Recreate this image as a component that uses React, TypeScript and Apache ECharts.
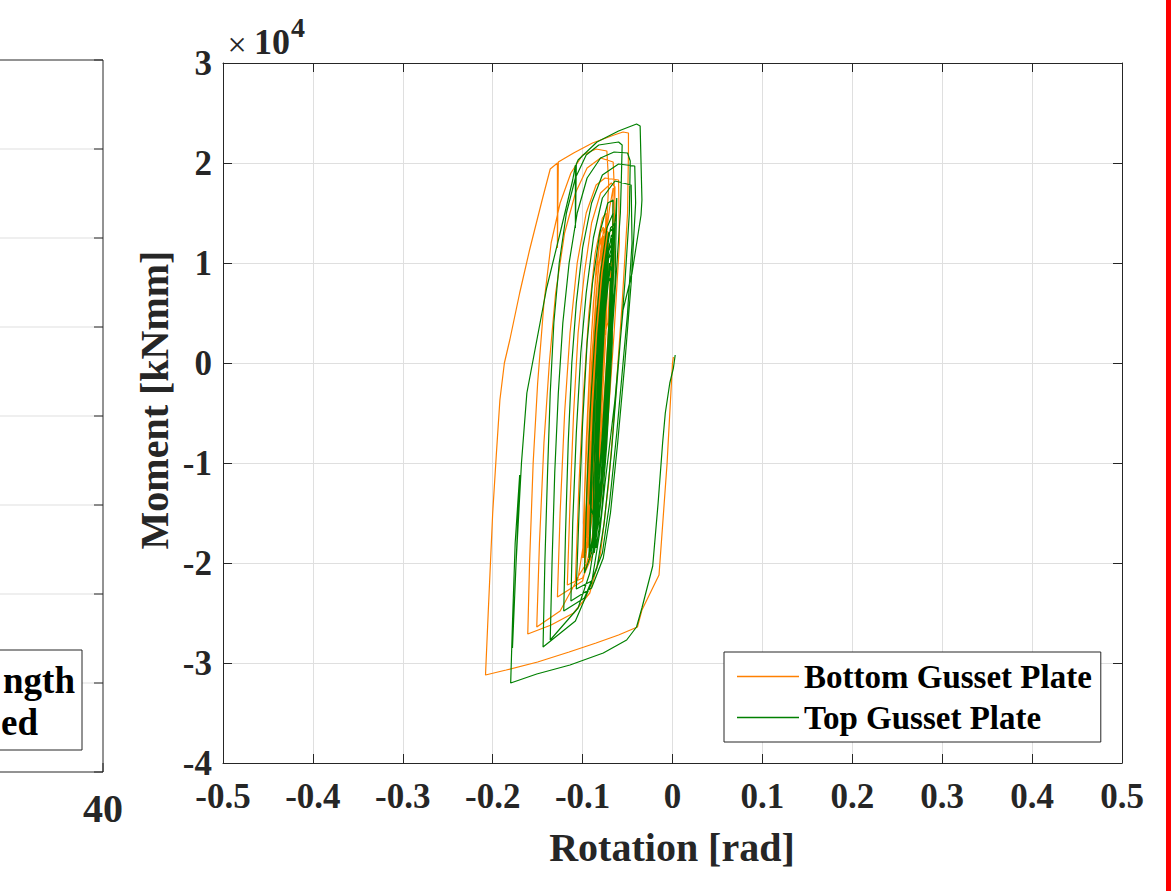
import React, { useEffect, useRef } from "react";
import * as echarts from "echarts";

const FONT = "'Liberation Serif', 'Times New Roman', serif";

const seriesNames = ["Bottom Gusset Plate", "Top Gusset Plate"];
const seriesColors = ["#FF8000", "#008000"];

// Rotation [rad], Moment [kNmm] — Bottom gusset plate, outer loops
const bottomOuter: [number, number][] = [
  [0.001, 600], [0.0, 0], [-0.006, -10000], [-0.015, -21200], [-0.034, -24700], [-0.039, -26400],
  [-0.06, -27200], [-0.085, -28000], [-0.115, -28900], [-0.15, -29900], [-0.185, -30700], [-0.208, -31200],
  [-0.205, -25000], [-0.2, -15000], [-0.196, -9200], [-0.192, -3700], [-0.187, 0], [-0.181, 2300],
  [-0.17, 7000], [-0.159, 11300], [-0.145, 16300], [-0.136, 19400], [-0.128, 20000], [-0.128, 11500],
  [-0.127, 20100], [-0.11, 21000], [-0.089, 22000], [-0.065, 22800], [-0.055, 23100], [-0.049, 23000],
  [-0.049, 21000], [-0.05, 15000], [-0.056, 6000], [-0.063, -3000], [-0.071, -12000], [-0.08, -19000],
  [-0.092, -23000], [-0.11, -25000], [-0.135, -26200], [-0.161, -27100],
  [-0.159, -20000], [-0.155, -10000], [-0.15, -2000], [-0.143, 6000], [-0.135, 12000], [-0.125, 16000],
  [-0.113, 19000], [-0.1, 20800], [-0.085, 21400], [-0.073, 21200], [-0.071, 18000], [-0.075, 10000],
  [-0.082, 0], [-0.09, -10000], [-0.097, -17000], [-0.105, -21500], [-0.125, -24800], [-0.151, -26400],
  [-0.148, -18000], [-0.143, -8000], [-0.137, 0], [-0.13, 7000], [-0.12, 13000], [-0.108, 17000],
  [-0.095, 19500], [-0.08, 20500], [-0.066, 20100], [-0.064, 16000], [-0.068, 8000], [-0.075, -2000],
  [-0.082, -11000], [-0.09, -18000], [-0.1, -21800], [-0.128, -23400],
  [-0.125, -15000], [-0.12, -5000], [-0.114, 3000], [-0.106, 10000], [-0.096, 15000], [-0.085, 17800],
  [-0.075, 18500], [-0.06, 18300], [-0.059, 12000], [-0.065, 3000], [-0.072, -6000], [-0.08, -14000],
  [-0.088, -19000], [-0.1, -21500], [-0.117, -22200],
  [-0.114, -14000], [-0.11, -5000], [-0.105, 3000], [-0.098, 9000], [-0.09, 14000], [-0.08, 17000],
  [-0.068, 18000], [-0.064, 17600], [-0.065, 10000], [-0.07, 2000], [-0.077, -7000], [-0.084, -14000],
  [-0.092, -19500], [-0.108, -21800],
];

// Bottom gusset plate, dense inner cycles
const bottomInner: [number, number][] = [
  [-0.104, -12000], [-0.099, -3000], [-0.093, 5000], [-0.086, 11000], [-0.078, 14500], [-0.074, 15000],
  [-0.076, 8000], [-0.082, -2000], [-0.088, -10000], [-0.094, -16000], [-0.1, -19500],
  [-0.097, -11000], [-0.093, -2000], [-0.088, 6000], [-0.082, 11500], [-0.075, 13500], [-0.078, 6000],
  [-0.084, -4000], [-0.09, -12000], [-0.097, -18000],
  [-0.094, -9000], [-0.09, 0], [-0.085, 7000], [-0.079, 12000], [-0.073, 13000], [-0.076, 5000],
  [-0.082, -5000], [-0.088, -13000], [-0.095, -17500],
  [-0.092, -8000], [-0.087, 1000], [-0.082, 8000], [-0.076, 12500], [-0.072, 13200], [-0.075, 4000],
  [-0.081, -6000], [-0.087, -13000], [-0.093, -17000],
  [-0.09, -8000], [-0.086, 0], [-0.081, 7000], [-0.076, 11000], [-0.071, 12000], [-0.074, 3000],
  [-0.08, -7000], [-0.086, -14000], [-0.092, -16500],
  [-0.089, -7000], [-0.085, 1000], [-0.08, 7500], [-0.075, 11500], [-0.073, 11800], [-0.076, 2000],
  [-0.082, -8000], [-0.088, -14500], [-0.094, -18500],
  [-0.091, -9000], [-0.087, -1000], [-0.083, 6000], [-0.078, 10500], [-0.074, 11000], [-0.077, 3000],
  [-0.083, -6000], [-0.089, -13000], [-0.095, -16000],
  [-0.096, -15000], [-0.092, -6000], [-0.088, 2000], [-0.083, 9000], [-0.078, 12500], [-0.074, 12800],
  [-0.078, 4000], [-0.084, -6000], [-0.09, -14000], [-0.097, -19000],
  [-0.098, -14000], [-0.094, -5000], [-0.09, 3000], [-0.085, 9500], [-0.08, 13000], [-0.077, 13600],
  [-0.08, 5000], [-0.086, -5000], [-0.092, -13000], [-0.098, -18000],
  [-0.095, -12000], [-0.091, -3000], [-0.087, 4000], [-0.082, 10000], [-0.077, 12000], [-0.079, 3000],
  [-0.085, -7000], [-0.091, -15000], [-0.097, -20000],
  [-0.099, -16000], [-0.096, -8000], [-0.092, 0], [-0.087, 7000], [-0.081, 12000], [-0.079, 12500],
  [-0.081, 3000], [-0.087, -7000], [-0.093, -15000], [-0.099, -19500],
  [-0.093, -10000], [-0.089, -2000], [-0.085, 5000], [-0.08, 8000], [-0.07, 15500], [-0.066, 17500],
  [-0.067, 12000], [-0.072, 4000], [-0.078, 2000], [-0.084, -8000], [-0.09, -14000],
  [-0.092, -7000], [-0.088, 2000], [-0.084, 8000], [-0.08, 11000], [-0.077, 10000], [-0.08, 1000],
  [-0.086, -8000],
];

// Top gusset plate, outer loops
const topOuter: [number, number][] = [
  [0.003, 800], [0.001, -500], [-0.003, -2000], [-0.008, -5000], [-0.011, -8000], [-0.016, -14000],
  [-0.022, -20300], [-0.034, -24500], [-0.04, -26400], [-0.051, -27700], [-0.077, -29000], [-0.114, -30200],
  [-0.151, -31100], [-0.18, -32000], [-0.178, -26000], [-0.175, -18000], [-0.17, -11200], [-0.174, -20000],
  [-0.178, -28500], [-0.174, -20000], [-0.168, -10000], [-0.162, -3000], [-0.153, 1300], [-0.14, 7500],
  [-0.125, 13000], [-0.111, 18300], [-0.108, 19800], [-0.108, 13500], [-0.107, 19900], [-0.105, 20300],
  [-0.084, 22100], [-0.06, 23200], [-0.04, 23900], [-0.036, 23700], [-0.034, 16300], [-0.035, 14800],
  [-0.045, 9000], [-0.055, 5300], [-0.064, -3700], [-0.075, -12000], [-0.081, -17000], [-0.09, -22000],
  [-0.108, -25800], [-0.144, -28400],
  [-0.142, -20000], [-0.139, -11000], [-0.136, -3000], [-0.132, 4000], [-0.126, 10000], [-0.118, 15000],
  [-0.108, 18500], [-0.096, 20800], [-0.082, 21800], [-0.06, 22100], [-0.056, 21800], [-0.057, 18000],
  [-0.058, 15000], [-0.064, 7000], [-0.071, -2000], [-0.078, -10000], [-0.085, -17000], [-0.092, -21000],
  [-0.105, -24500], [-0.136, -27700],
  [-0.134, -20000], [-0.131, -11000], [-0.127, -3000], [-0.122, 4000], [-0.115, 10000], [-0.106, 15000],
  [-0.095, 18500], [-0.08, 20500], [-0.065, 21100], [-0.05, 21000], [-0.047, 20200], [-0.048, 15000],
  [-0.053, 8000], [-0.06, 0], [-0.068, -9000], [-0.076, -16000], [-0.084, -20500], [-0.098, -23500],
  [-0.121, -24800],
  [-0.119, -17000], [-0.116, -8000], [-0.112, 0], [-0.107, 6000], [-0.1, 11500], [-0.09, 16000],
  [-0.078, 18800], [-0.06, 19900], [-0.042, 19700], [-0.041, 16000], [-0.046, 8000], [-0.053, 0],
  [-0.061, -8000], [-0.069, -15000], [-0.077, -19500], [-0.09, -22500], [-0.113, -23800],
  [-0.111, -16000], [-0.107, -7000], [-0.102, 1000], [-0.096, 7000], [-0.088, 12500], [-0.078, 16500],
  [-0.064, 18200], [-0.046, 17800], [-0.045, 12000], [-0.05, 5000], [-0.055, 0], [-0.062, -7000],
  [-0.07, -14000], [-0.078, -19000], [-0.09, -21800], [-0.107, -22600],
];

// Top gusset plate, dense inner cycles
const topInner: [number, number][] = [
  [-0.104, -15000], [-0.1, -6000], [-0.095, 2000], [-0.089, 8000], [-0.081, 13000], [-0.072, 16000],
  [-0.066, 16300], [-0.067, 10000], [-0.072, 2000], [-0.078, -7000], [-0.084, -14000], [-0.09, -19000],
  [-0.098, -21000],
  [-0.095, -12000], [-0.091, -4000], [-0.086, 3000], [-0.08, 9000], [-0.073, 13500], [-0.066, 15000],
  [-0.068, 7000], [-0.073, -1000], [-0.079, -9000], [-0.085, -15500], [-0.093, -19500],
  [-0.09, -11000], [-0.086, -3000], [-0.081, 4000], [-0.075, 10000], [-0.069, 13500], [-0.064, 14000],
  [-0.067, 5000], [-0.072, -3000], [-0.078, -11000], [-0.085, -17000], [-0.092, -19000],
  [-0.089, -10000], [-0.085, -2000], [-0.08, 5000], [-0.074, 10500], [-0.068, 12500], [-0.066, 6000],
  [-0.07, -2000], [-0.076, -10000], [-0.082, -16000], [-0.089, -18500],
  [-0.087, -9000], [-0.083, -1000], [-0.078, 6000], [-0.072, 11000], [-0.067, 12000], [-0.068, 4000],
  [-0.073, -5000], [-0.079, -12000], [-0.086, -17500],
  [-0.085, -8000], [-0.081, 0], [-0.076, 7000], [-0.071, 10500], [-0.066, 11000], [-0.069, 3000],
  [-0.074, -6000], [-0.08, -13000], [-0.086, -16000],
  [-0.092, -14000], [-0.088, -5000], [-0.083, 3000], [-0.077, 9000], [-0.071, 13000], [-0.066, 13500],
  [-0.068, 5000], [-0.074, -4000], [-0.08, -12000], [-0.087, -18000],
  [-0.088, -12000], [-0.084, -4000], [-0.079, 4000], [-0.073, 10000], [-0.068, 12800], [-0.065, 12500],
  [-0.068, 3000], [-0.074, -7000], [-0.08, -14000], [-0.087, -19000],
  [-0.086, -11000], [-0.082, -3000], [-0.077, 5000], [-0.071, 10500], [-0.066, 12000], [-0.067, 2000],
  [-0.073, -8000], [-0.079, -15000], [-0.085, -18500],
  [-0.084, -9000], [-0.08, -1000], [-0.075, 5000], [-0.063, 15000], [-0.062, 16500], [-0.064, 8000],
  [-0.07, 0], [-0.076, -8000], [-0.08, -14000], [-0.085, -17000],
  [-0.082, -8000], [-0.078, 0], [-0.074, 6500], [-0.069, 9500], [-0.066, 9000], [-0.069, -1000],
  [-0.075, -9000], [-0.081, -13500],
  [-0.083, -7000], [-0.079, 1000], [-0.074, 7000], [-0.07, 10000], [-0.067, 9000], [-0.071, 0],
  [-0.077, -9000], [-0.082, -14000],
  [-0.084, -10000], [-0.08, -2000], [-0.076, 4000], [-0.072, 8000], [-0.069, 8500], [-0.072, 0],
  [-0.078, -8000],
];

const xRange = [-0.5, 0.5, 0.1];
const yRange = [-40000, 30000, 10000];
const leftPanelLabel = "40";
const leftLegendFragments = ["ngth", "ed"];

export default function App() {
  const ref = useRef<HTMLDivElement>(null);
  useEffect(() => {
    if (!ref.current) return;
    const chart = echarts.init(ref.current, null, { renderer: "svg" });
    const axisColor = "#262626";
    const gridColor = "#dfdfdf";
    const labelStyle = { fontSize: 35, fontWeight: "bold", fontFamily: FONT, color: axisColor };
    const leftGridYs = [60, 149, 238, 327, 416, 505, 594, 683, 772];
    const graphics: any[] = [];
    // left (partial) panel
    leftGridYs.slice(1, -1).forEach((y) => {
      graphics.push({ type: "line", shape: { x1: 0, y1: y, x2: 103, y2: y }, style: { stroke: gridColor, lineWidth: 1 }, silent: true });
    });
    leftGridYs.forEach((y) => {
      graphics.push({ type: "line", shape: { x1: 94, y1: y, x2: 103, y2: y }, style: { stroke: axisColor, lineWidth: 1 }, silent: true });
    });
    graphics.push({ type: "polyline", shape: { points: [[0, 60], [103, 60], [103, 772], [0, 772]] }, style: { stroke: axisColor, fill: "none", lineWidth: 1 } });
    graphics.push({ type: "line", shape: { x1: 103, y1: 772, x2: 103, y2: 763 }, style: { stroke: axisColor, lineWidth: 1 } });
    graphics.push({ type: "rect", shape: { x: -2, y: 650, width: 84, height: 100 }, style: { stroke: axisColor, fill: "#fff", lineWidth: 1 } });
    graphics.push({ type: "text", x: 75, y: 680, style: { text: leftLegendFragments[0], textAlign: "right", textVerticalAlign: "middle", font: `bold 37px ${FONT}`, fill: "#000" } });
    graphics.push({ type: "text", x: 38, y: 722, style: { text: leftLegendFragments[1], textAlign: "right", textVerticalAlign: "middle", font: `bold 37px ${FONT}`, fill: "#000" } });
    graphics.push({ type: "text", x: 103, y: 808, style: { text: leftPanelLabel, textAlign: "center", textVerticalAlign: "middle", font: `bold 40px ${FONT}`, fill: axisColor } });
    // exponent label
    graphics.push({ type: "text", x: 237, y: 44, style: { text: "×", textAlign: "center", textVerticalAlign: "middle", font: `34px ${FONT}`, fill: axisColor } });
    graphics.push({ type: "text", x: 254, y: 42, style: { text: "10", textAlign: "left", textVerticalAlign: "middle", font: `bold 36px ${FONT}`, fill: axisColor } });
    graphics.push({ type: "text", x: 291, y: 27, style: { text: "4", textAlign: "left", textVerticalAlign: "middle", font: `bold 28px ${FONT}`, fill: axisColor } });
    // axis titles
    graphics.push({ type: "text", x: 672, y: 847, style: { text: "Rotation [rad]", textAlign: "center", textVerticalAlign: "middle", font: `bold 40px ${FONT}`, fill: axisColor } });
    graphics.push({ type: "text", x: 154, y: 400, rotation: Math.PI / 2, style: { text: "Moment [kNmm]", textAlign: "center", textVerticalAlign: "middle", font: `bold 40px ${FONT}`, fill: axisColor } });
    // red bar on the right edge
    graphics.push({ type: "rect", shape: { x: 1166, y: 0, width: 5, height: 891 }, style: { fill: "#FF0000" } });

    const xCommon = { type: "value", min: xRange[0], max: xRange[1], interval: xRange[2] };
    const yCommon = { type: "value", min: yRange[0], max: yRange[1], interval: yRange[2] };
    const tick = { show: true, inside: true, length: 9, lineStyle: { color: axisColor, width: 1 } };
    const line = { show: true, onZero: false, lineStyle: { color: axisColor, width: 1 } };

    chart.setOption({
      animation: false,
      backgroundColor: "#ffffff",
      grid: { left: 223, top: 63, width: 899, height: 700, containLabel: false },
      xAxis: [
        {
          ...xCommon, position: "bottom", axisLine: line, axisTick: tick,
          axisLabel: { ...labelStyle, margin: 16, formatter: (v: number) => String(Math.round(v * 10) / 10) },
          splitLine: { show: true, lineStyle: { color: gridColor, width: 1 } },
        },
        { ...xCommon, position: "top", axisLine: line, axisTick: tick, axisLabel: { show: false }, splitLine: { show: false } },
      ],
      yAxis: [
        {
          ...yCommon, position: "left", axisLine: line, axisTick: tick,
          axisLabel: { ...labelStyle, margin: 11, formatter: (v: number) => String(Math.round(v / 10000)) },
          splitLine: { show: true, lineStyle: { color: gridColor, width: 1 } },
        },
        { ...yCommon, position: "right", axisLine: line, axisTick: tick, axisLabel: { show: false }, splitLine: { show: false } },
      ],
      legend: {
        data: [
          { name: seriesNames[0], icon: "rect" },
          { name: seriesNames[1], icon: "rect" },
        ],
        orient: "vertical",
        left: 724,
        top: 652,
        backgroundColor: "#ffffff",
        borderColor: axisColor,
        borderWidth: 1,
        borderRadius: 0,
        padding: [8, 9, 8, 13],
        itemWidth: 62,
        itemHeight: 1.5,
        itemGap: 8,
        selectedMode: false,
        textStyle: { fontSize: 33, fontWeight: "bold", fontFamily: FONT, color: "#000", lineHeight: 33 },
      },
      graphic: graphics,
      series: [
        {
          name: seriesNames[0], type: "line", data: [...bottomOuter, ...bottomInner],
          showSymbol: false, symbol: "none", color: seriesColors[0],
          lineStyle: { color: seriesColors[0], width: 1.2 }, z: 2,
        },
        {
          name: seriesNames[1], type: "line", data: [...topOuter, ...topInner],
          showSymbol: false, symbol: "none", color: seriesColors[1],
          lineStyle: { color: seriesColors[1], width: 1.2 }, z: 3,
        },
      ],
    });
    return () => chart.dispose();
  }, []);
  return <div ref={ref} style={{ position: "fixed", left: 0, top: 0, width: 1171, height: 891, background: "#fff" }} />;
}
